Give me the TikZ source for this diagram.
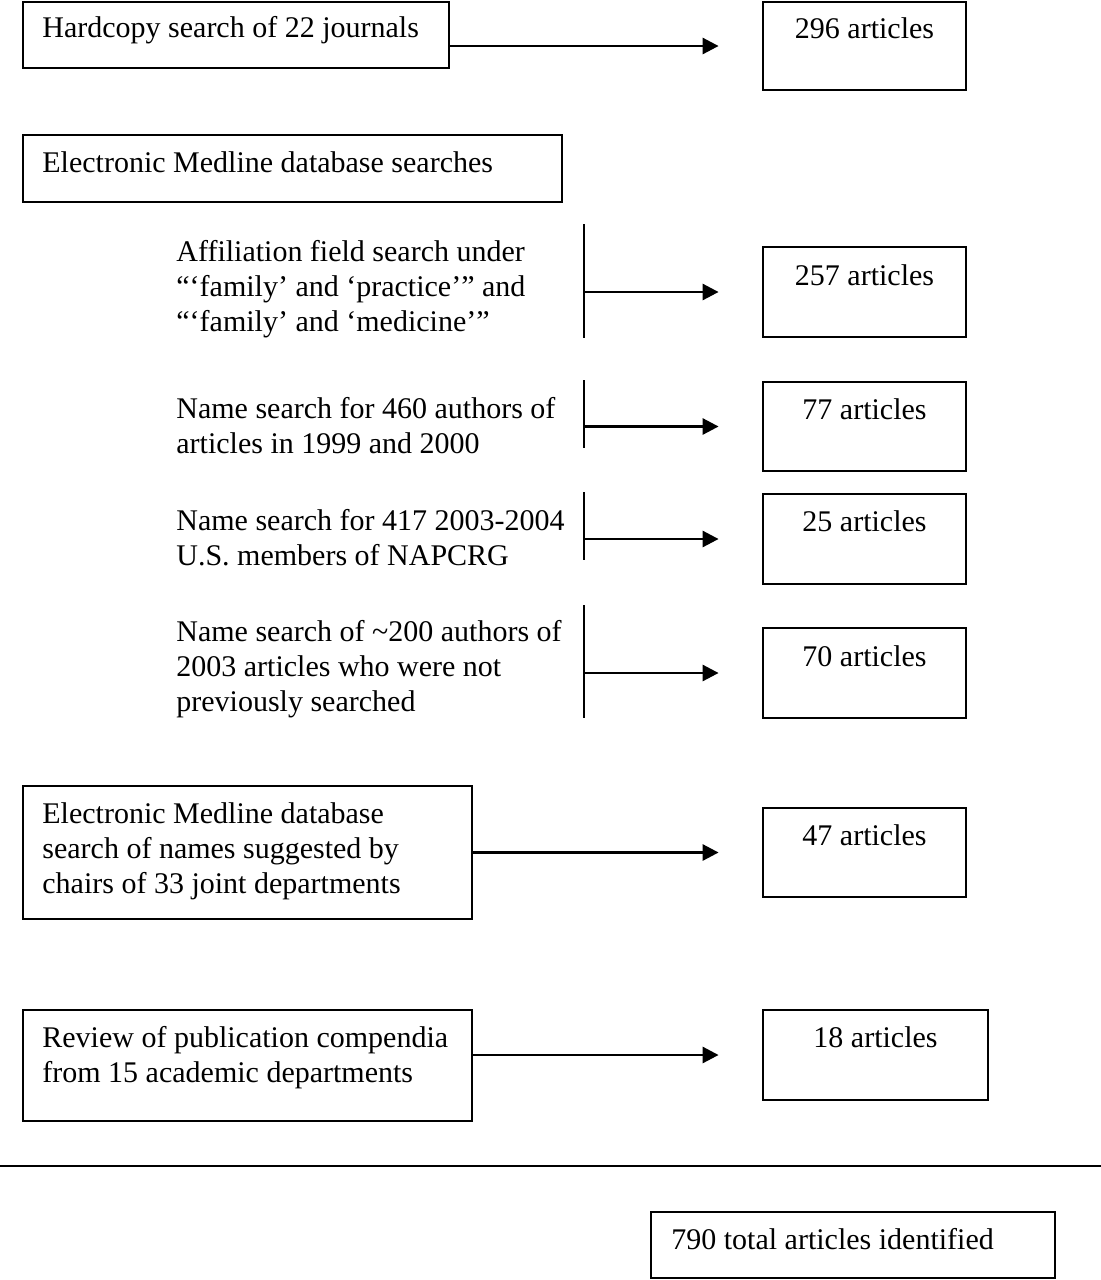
\documentclass[tikz,border=0pt]{standalone}
\usepackage{fontspec}
\setmainfont{Liberation Serif}
\usetikzlibrary{arrows.meta,fit}
\newcommand{\myfs}{\fontsize{15}{17.5}\selectfont}
\begin{document}
\begin{tikzpicture}[x=0.5pt,y=-0.5pt,
  box/.style={draw=black,line width=1.4pt,inner sep=0pt,fit={#1}},
  lbl/.style={inner sep=0pt,font=\myfs},
  arr/.style={line width=1.4pt,-{Triangle[length=8pt,width=8pt]},shorten >=21.5pt},
  bar/.style={line width=1.2pt}]
\useasboundingbox (0,0) rectangle (1101,1280);
% boxes
\node[box={(23,2) (449,68)}] (b1) {};
\node[box={(763,2) (966,90)}] (t296) {};
\node[box={(23,135) (562,202)}] (b2) {};
\node[box={(763,247) (966,337)}] (t257) {};
\node[box={(763,382) (966,471)}] (t77) {};
\node[box={(763,494) (966,584)}] (t25) {};
\node[box={(763,628) (966,718)}] (t70) {};
\node[box={(23,786) (472,919)}] (b3) {};
\node[box={(763,808) (966,897)}] (t47) {};
\node[box={(23,1010) (472,1121)}] (b4) {};
\node[box={(763,1010) (988,1100)}] (t18) {};
\node[box={(651,1212) (1055,1278)}] (tot) {};
% texts
\node[lbl,anchor=base west] (l1) at (42,37) {Hardcopy search of 22 journals};
\node[lbl,anchor=base] (l296) at (864.5,38) {296 articles};
\node[lbl,anchor=base west] (l2) at (42,172) {Electronic Medline database searches};
\node[lbl,anchor=base west] (la) at (176,261) {\parbox[t]{400pt}{\myfs Affiliation field search under\\“‘family’ and ‘practice’” and\\“‘family’ and ‘medicine’”}};
\node[lbl,anchor=base] (l257) at (864.5,285) {257 articles};
\node[lbl,anchor=base west] (lb) at (176,418) {\parbox[t]{400pt}{\myfs Name search for 460 authors of\\articles in 1999 and 2000}};
\node[lbl,anchor=base] (l77) at (864.5,419) {77 articles};
\node[lbl,anchor=base west] (lc) at (176,530) {\parbox[t]{400pt}{\myfs Name search for 417 2003-2004\\U.S. members of NAPCRG}};
\node[lbl,anchor=base] (l25) at (864.5,531) {25 articles};
\node[lbl,anchor=base west] (ld) at (176,641) {\parbox[t]{400pt}{\myfs Name search of \textasciitilde200 authors of\\2003 articles who were not\\previously searched}};
\node[lbl,anchor=base] (l70) at (864.5,666) {70 articles};
\node[lbl,anchor=base west] (l3) at (42,823) {\parbox[t]{400pt}{\myfs Electronic Medline database\\search of names suggested by\\chairs of 33 joint departments}};
\node[lbl,anchor=base] (l47) at (864.5,845) {47 articles};
\node[lbl,anchor=base west] (l4) at (42,1047) {\parbox[t]{400pt}{\myfs Review of publication compendia\\from 15 academic departments}};
\node[lbl,anchor=base] (l18) at (875.5,1047) {18 articles};
\node[lbl,anchor=base west] (ltot) at (671,1249) {790 total articles identified};
% vertical bars
\coordinate (v1t) at (584,224); \coordinate (v1b) at (584,338);
\coordinate (v2t) at (584,380); \coordinate (v2b) at (584,448);
\coordinate (v3t) at (584,492); \coordinate (v3b) at (584,560);
\coordinate (v4t) at (584,605); \coordinate (v4b) at (584,718);
\draw[bar] (v1t) -- (v1b);
\draw[bar] (v2t) -- (v2b);
\draw[bar] (v3t) -- (v3b);
\draw[bar] (v4t) -- (v4b);
% horizontal rule
\coordinate (hl) at (0,1166); \coordinate (hr) at (1101,1166);
\draw[line width=1.4pt] (hl) -- (hr);
% arrows
\draw[arr] (b1.east |- t296.west) -- (t296.west);
\draw[arr] (v1t |- t257.west) -- (t257.west);
\draw[arr] (v2t |- t77.west) -- (t77.west);
\draw[arr] (v3t |- t25.west) -- (t25.west);
\draw[arr] (v4t |- t70.west) -- (t70.west);
\draw[arr] (b3.east |- t47.west) -- (t47.west);
\draw[arr] (b4.east |- t18.west) -- (t18.west);
\end{tikzpicture}
\end{document}
